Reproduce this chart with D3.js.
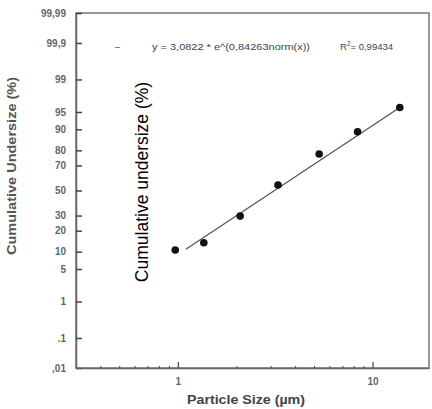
<!DOCTYPE html>
<html>
<body style="margin:0;background:#fff">
<script src="https://d3js.org/d3.v7.min.js"></script>
<style>
  svg { font-family: Arial, "Liberation Sans", sans-serif; }
  .tick text { fill: #666; font-weight: bold; font-size: 10px; }
</style>
<script>
// measured points
var sizes = [0.97, 1.36, 2.09, 3.27, 5.32, 8.38, 13.8];
var undersize = [10.6, 13.7, 29.6, 54.6, 77.8, 89.1, 95.9];
// fitted line ends
var fitSize = [1.1, 13.8];
var fitPct = [10.9, 95.9];

var yTicks = [99.99, 99.9, 99, 95, 90, 80, 70, 50, 30, 20, 10, 5, 1, 0.1, 0.01];
var yLabels = ['99,99', '99,9', '99', '95', '90', '80', '70', '50', '30', '20', '10', '5', '1', '.1', ',01'];
var xMajor = [1, 10];
var xMinor = [0.4, 0.5, 0.6, 0.7, 0.8, 0.9, 2, 3, 4, 5, 6, 7, 8, 9];

// inverse normal cdf (Acklam)
function probit(p) {
  var a = [-3.969683028665376e+01, 2.209460984245205e+02, -2.759285104469687e+02, 1.383577518672690e+02, -3.066479806614716e+01, 2.506628277459239e+00];
  var b = [-5.447609879822406e+01, 1.615858368580409e+02, -1.556989798598866e+02, 6.680131188771972e+01, -1.328068155288572e+01];
  var c = [-7.784894002430293e-03, -3.223964580411365e-01, -2.400758277161838e+00, -2.549732539343734e+00, 4.374664141464968e+00, 2.938163982698783e+00];
  var d = [7.784695709041462e-03, 3.224671290700398e-01, 2.445134137142996e+00, 3.754408661907416e+00];
  var plow = 0.02425, q, r;
  if (p < plow) {
    q = Math.sqrt(-2 * Math.log(p));
    return (((((c[0]*q+c[1])*q+c[2])*q+c[3])*q+c[4])*q+c[5]) / ((((d[0]*q+d[1])*q+d[2])*q+d[3])*q+1);
  }
  if (p > 1 - plow) {
    q = Math.sqrt(-2 * Math.log(1 - p));
    return -(((((c[0]*q+c[1])*q+c[2])*q+c[3])*q+c[4])*q+c[5]) / ((((d[0]*q+d[1])*q+d[2])*q+d[3])*q+1);
  }
  q = p - 0.5; r = q * q;
  return (((((a[0]*r+a[1])*r+a[2])*r+a[3])*r+a[4])*r+a[5])*q / (((((b[0]*r+b[1])*r+b[2])*r+b[3])*r+b[4])*r+1);
}
var z = p => probit(p / 100);

var margin = {top: 13, right: 3, bottom: 41, left: 76};
var width = 432 - margin.left - margin.right,
    height = 409 - margin.top - margin.bottom;

const xScale = d3.scaleLog().domain([0.3, 19.5]).range([0, width]);
const yScale = d3.scaleLinear().domain([z(0.01), z(99.99)]).range([height, 0]);

var svg = d3.select('body').append('svg')
    .attr('width', 432)
    .attr('height', 409)
  .append('g')
    .attr('transform', `translate(${margin.left}, ${margin.top})`);

// frame
svg.append('rect')
  .attr('width', width).attr('height', height)
  .attr('fill', 'none').attr('stroke', '#777').attr('stroke-width', 1.5);

// y axis
svg.append('g')
  .call(d3.axisLeft(yScale)
    .tickValues(yTicks.map(z))
    .tickFormat((d, i) => yLabels[i])
    .tickSizeInner(-6).tickSizeOuter(0).tickPadding(10))
  .call(g => g.select('.domain').attr('stroke', '#666').attr('stroke-width', 1.5))
  .call(g => g.selectAll('.tick line').attr('stroke', '#444').attr('stroke-width', 1.5));

// x axis, minor then major
svg.append('g')
  .attr('transform', `translate(0, ${height})`)
  .call(d3.axisBottom(xScale).tickValues(xMinor).tickFormat('').tickSizeInner(-2).tickSizeOuter(0))
  .call(g => g.select('.domain').remove())
  .call(g => g.selectAll('.tick line').attr('stroke', '#444'));

svg.append('g')
  .attr('transform', `translate(0, ${height})`)
  .call(d3.axisBottom(xScale).tickValues(xMajor).tickFormat(d3.format('d'))
    .tickSizeInner(-6).tickSizeOuter(0).tickPadding(10))
  .call(g => g.select('.domain').attr('stroke', '#666').attr('stroke-width', 1.5))
  .call(g => g.selectAll('.tick line').attr('stroke', '#444').attr('stroke-width', 1.2));

// fit line
svg.append('path')
  .datum(fitSize.map((s, i) => [s, fitPct[i]]))
  .attr('fill', 'none')
  .attr('stroke', '#555')
  .attr('stroke-width', 1.3)
  .attr('d', d3.line().x(d => xScale(d[0])).y(d => yScale(z(d[1]))));

// points
svg.selectAll('circle')
  .data(sizes.map((s, i) => [s, undersize[i]]))
  .enter()
  .append('circle')
  .attr('r', 3.8)
  .attr('cx', d => xScale(d[0]))
  .attr('cy', d => yScale(z(d[1])))
  .attr('fill', '#111');

// legend
svg.append('text').attr('x', 39).attr('y', 37).attr('font-size', 9).attr('fill', '#444').text('–');
svg.append('text').attr('x', 76).attr('y', 37).attr('font-size', 9.5).attr('fill', '#444')
  .attr('textLength', 158).attr('lengthAdjust', 'spacingAndGlyphs')
  .text('y = 3,0822 * e^(0,84263norm(x))');
var r2 = svg.append('text').attr('x', 264).attr('y', 37).attr('font-size', 9.5).attr('fill', '#444');
r2.append('tspan').text('R');
r2.append('tspan').attr('dy', -4).attr('font-size', 6.5).text('2');
r2.append('tspan').attr('dy', 4).text('= 0,99434');

// axis titles
svg.append('text')
  .attr('transform', `translate(${16 - margin.left}, ${166 - margin.top}) rotate(-90)`)
  .attr('text-anchor', 'middle').attr('font-weight', 'bold').attr('font-size', 13).attr('fill', '#555')
  .attr('textLength', 178).attr('lengthAdjust', 'spacingAndGlyphs')
  .text('Cumulative Undersize (%)');

svg.append('text')
  .attr('x', 246 - margin.left).attr('y', 404 - margin.top)
  .attr('text-anchor', 'middle').attr('font-weight', 'bold').attr('font-size', 12.5).attr('fill', '#444')
  .attr('textLength', 118).attr('lengthAdjust', 'spacingAndGlyphs')
  .text('Particle Size (µm)');

// overlaid label
svg.append('text')
  .attr('transform', `translate(${148 - margin.left}, ${182 - margin.top}) rotate(-90)`)
  .attr('text-anchor', 'middle').attr('font-size', 17.5).attr('fill', '#000')
  .text('Cumulative undersize (%)');
</script>
</body>
</html>
